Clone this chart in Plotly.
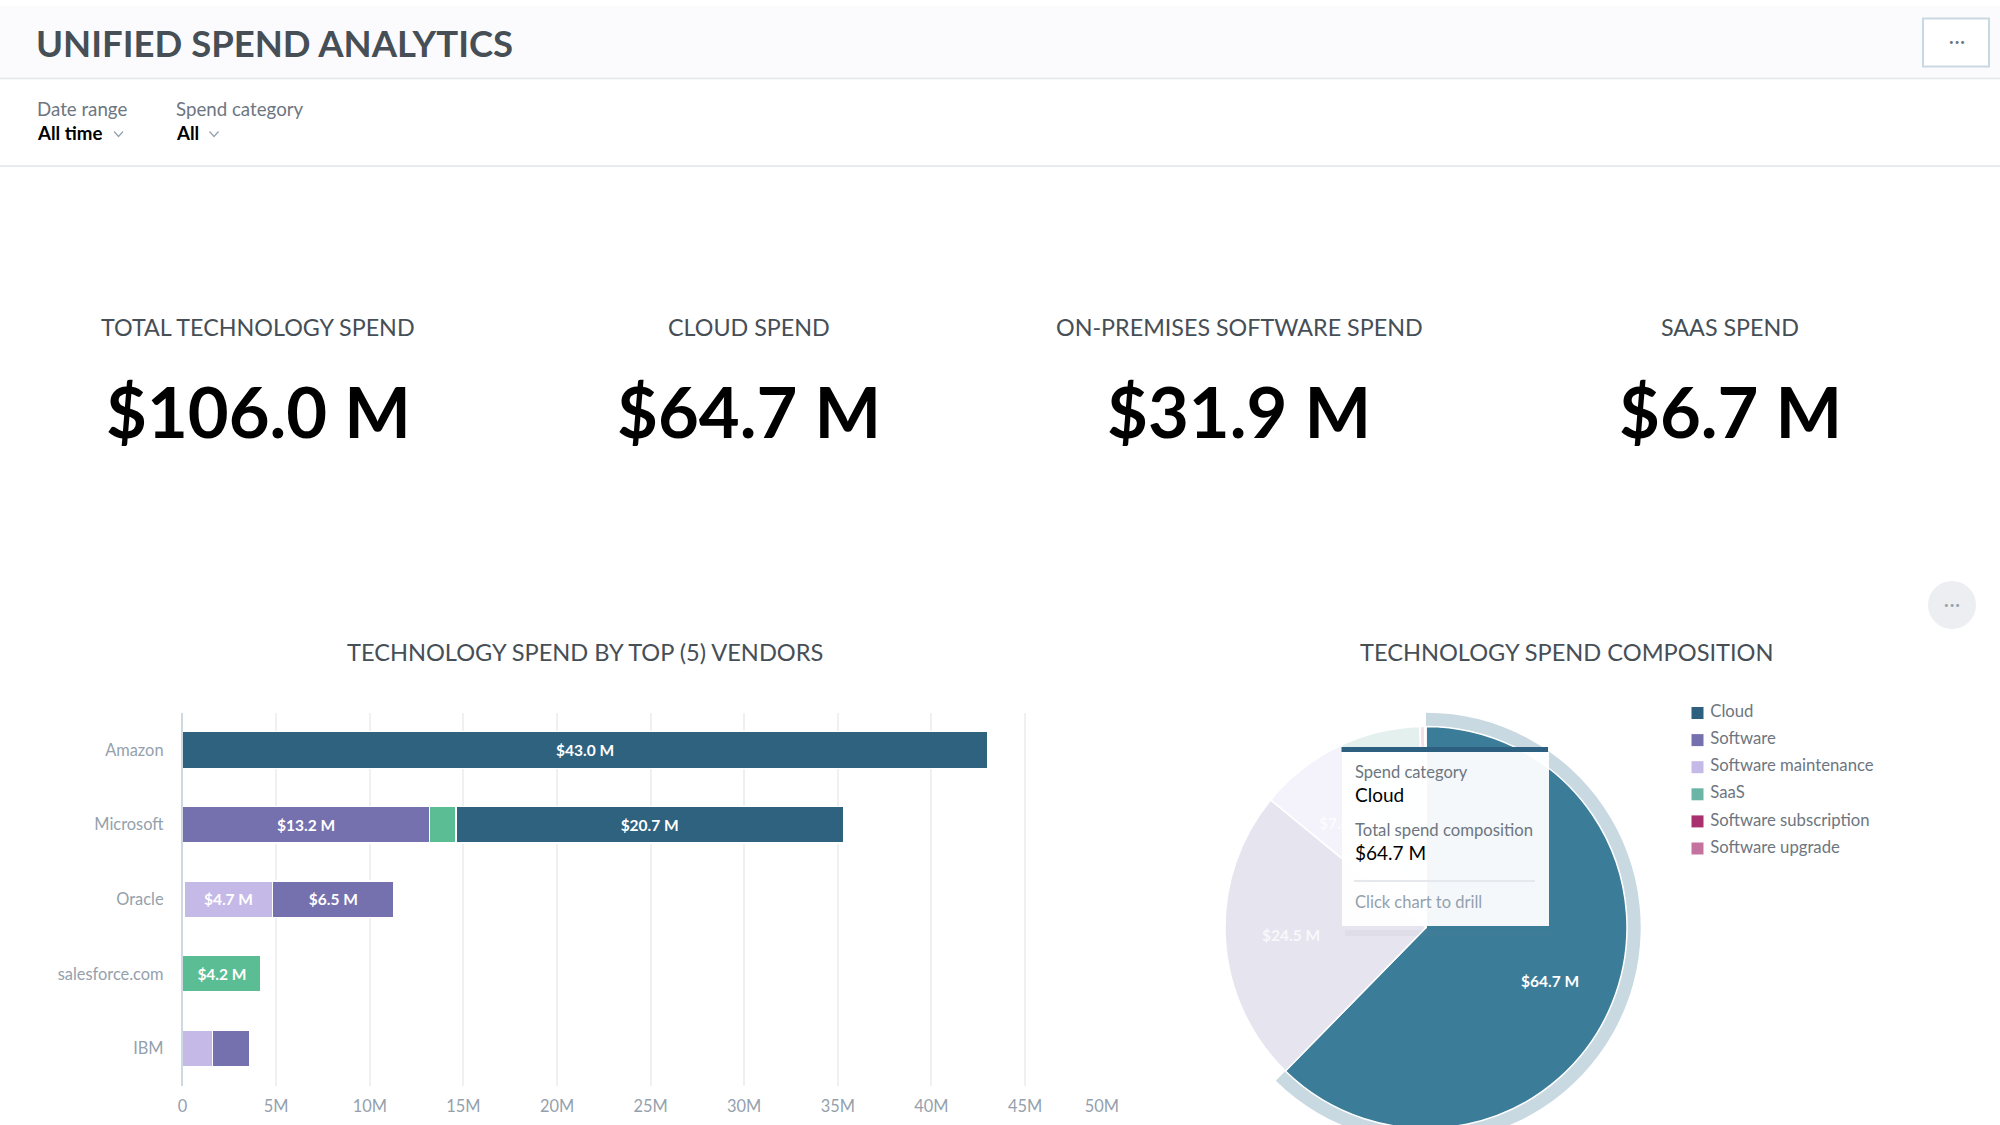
import plotly.graph_objects as go

W, H = 2000, 1160
FONT = "Lato"

vendors = ["Amazon", "Microsoft", "Oracle", "salesforce.com", "IBM"]
upgrade_spend = [None, None, 0.1, None, None]
maintenance_spend = [None, None, 4.7, None, 1.6]
software_spend = [None, 13.2, 6.5, None, 2.0]
saas_spend = [None, 1.4, None, 4.2, None]
cloud_spend = [43.0, 20.7, None, None, None]
x_tick_vals = [0, 5, 10, 15, 20, 25, 30, 35, 40, 45, 50]
x_tick_text = ["0", "5M", "10M", "15M", "20M", "25M", "30M", "35M", "40M", "45M", "50M" + "\u00a0" * 8]

pie_labels = ["Cloud", "Software", "Software maintenance", "SaaS", "Software subscription", "Software upgrade"]
pie_values = [64.7, 24.5, 7.4, 6.7, 0.4, 0.1]
pie_text = ["", "", "", "$6.7 M", "", ""]
legend_colors = ["#2d5f7f", "#7570ae", "#c5b9e8", "#6ab5a5", "#a9306f", "#c4739f"]
pie_colors = ["#3b7c98", "#e6e4ef", "#f4f2fb", "#e3f0ee", "#f3dfe9", "#f3e4ec"]

kpi_titles = ["TOTAL TECHNOLOGY SPEND", "CLOUD SPEND", "ON-PREMISES SOFTWARE SPEND", "SAAS SPEND"]
kpi_values = ["$106.0 M", "$64.7 M", "$31.9 M", "$6.7 M"]


def px(v):
    return v / W


def py(v):
    return 1 - v / H


fig = go.Figure()


def fmt(vals):
    return [f"${v:.1f} M" if v is not None and v >= 3 else "" for v in vals]


for name, vals, color in [
    ("Software upgrade", upgrade_spend, "#ffffff"),
    ("Software maintenance", maintenance_spend, "#c5b9e8"),
    ("Software", software_spend, "#7570ae"),
    ("SaaS", saas_spend, "#5bbd93"),
    ("Cloud", cloud_spend, "#2e627f"),
]:
    fig.add_trace(go.Bar(
        y=vendors, x=vals, name=name, orientation="h", width=0.49,
        marker=dict(color=color, line=dict(color="#ffffff", width=1.5)),
        text=fmt(vals), textposition="inside", insidetextanchor="middle", textangle=0,
        constraintext="none",
        textfont=dict(family=FONT, size=15.5, color="#ffffff", weight=700),
        showlegend=False, hoverinfo="skip",
    ))

# halo around the hovered slice
cx, cy, r_pie, r_halo = 1426, 927.4, 201, 214.7
fig.add_trace(go.Pie(
    values=pie_values, labels=pie_labels, sort=False, direction="clockwise", rotation=0,
    hole=r_pie / r_halo, textinfo="none", hoverinfo="skip", showlegend=False,
    marker=dict(colors=["#c9d9e2"] + ["rgba(0,0,0,0)"] * 5, line=dict(width=0)),
    domain=dict(x=[px(cx - r_halo), px(cx + r_halo)], y=[py(cy + r_halo), py(cy - r_halo)]),
))
fig.add_trace(go.Pie(
    values=pie_values, labels=pie_labels, sort=False, direction="clockwise", rotation=0,
    text=pie_text, textinfo="text", textposition="inside", insidetextorientation="horizontal",
    textfont=dict(family=FONT, size=15.5, color="rgba(255,255,255,0.75)", weight=700),
    hoverinfo="skip", showlegend=False,
    marker=dict(colors=pie_colors, line=dict(color="#ffffff", width=1.5)),
    domain=dict(x=[px(cx - r_pie), px(cx + r_pie)], y=[py(cy + r_pie), py(cy - r_pie)]),
))

# legend, on a hidden pixel-like axis
fig.add_trace(go.Scatter(
    x=[1697.5] * len(pie_labels), y=[713 + 27.1 * i for i in range(len(pie_labels))],
    xaxis="x2", yaxis="y2", mode="markers+text", text=["\u00a0" + s for s in pie_labels],
    textposition="middle right",
    marker=dict(symbol="square", size=12, color=legend_colors),
    textfont=dict(family=FONT, size=16.7, color="#6d7680"),
    showlegend=False, hoverinfo="skip", cliponaxis=False,
))

shapes = []


def rect(x0, y0, x1, y1, fill, line=None, lw=0, layer="above"):
    shapes.append(dict(type="rect", xref="paper", yref="paper", x0=px(x0), x1=px(x1), y0=py(y0), y1=py(y1),
                       fillcolor=fill, line=dict(color=line or fill, width=lw), layer=layer))


def hline(x0, x1, y, color, lw=1.5):
    shapes.append(dict(type="line", xref="paper", yref="paper", x0=px(x0), x1=px(x1), y0=py(y), y1=py(y),
                       line=dict(color=color, width=lw)))


def chevron(x, y):
    shapes.append(dict(type="path", xref="paper", yref="paper",
                       path=f"M {px(x-4.5)} {py(y-2.5)} L {px(x)} {py(y+2.5)} L {px(x+4.5)} {py(y-2.5)}",
                       line=dict(color="#94a1ad", width=1.2)))


rect(0, 6, W, 78, "#fbfbfd", layer="below")
hline(0, W, 78.5, "#e1e6ea", 1.5)
hline(0, W, 166, "#dfe6ea", 1.5)
rect(1923, 18.5, 1989, 66.5, "#ffffff", "#c9d9e2", 2)
shapes.append(dict(type="circle", xref="paper", yref="paper", x0=px(1928), x1=px(1976), y0=py(629), y1=py(581),
                   fillcolor="#eceef1", line=dict(width=0)))
chevron(118.5, 134)
chevron(214, 134)

# tooltip shadow and top strip
rect(1345, 930, 1552, 936, "rgba(120,130,140,0.06)")
rect(1341.5, 747, 1548, 752, "#2d6080")


def note(x, y, text, size, color, anchor="left", weight=400):
    return dict(x=px(x), y=py(y), xref="paper", yref="paper", text=text, showarrow=False, xanchor=anchor,
                yanchor="middle", font=dict(family=FONT, size=size, color=color, weight=weight))


def panel(x0, y0, x1, y1, fill):
    return dict(x=px(x0), y=py(y0), xref="paper", yref="paper", text=" ", showarrow=False, xanchor="left",
                yanchor="top", width=x1 - x0, height=y1 - y0, bgcolor=fill, borderpad=0, borderwidth=0,
                font=dict(size=1))


annotations = [
    note(34, 43, "UNIFIED SPEND ANALYTICS", 36.5, "#464e56", weight=700),
    note(35, 109, "Date range", 18.7, "#6d7680"),
    note(35, 133, "All time", 18.7, "#000000", weight=700),
    note(174, 109, "Spend category", 18.7, "#6d7680"),
    note(174, 133, "All", 18.7, "#000000", weight=700),
    note(1956.5, 42, "\u2022\u2009\u2022\u2009\u2022", 8, "#6d7680", "center"),
    note(1952, 605, "\u2022\u2009\u2022\u2009\u2022", 8, "#94a1ad", "center"),
    note(585, 652, "TECHNOLOGY SPEND BY TOP (5) VENDORS", 23.6, "#464e56", "center"),
    note(1566, 652, "TECHNOLOGY SPEND COMPOSITION", 23.6, "#464e56", "center"),
    note(1549.5, 981, f"${pie_values[0]} M", 15.5, "#ffffff", "center", 700),
    note(1291, 935, f"${pie_values[1]} M", 15.5, "rgba(255,255,255,0.75)", "center", 700),
    note(1343, 823, f"${pie_values[2]} M", 15.5, "rgba(255,255,255,0.75)", "center", 700),
    panel(1341.5, 752, 1548, 926, "rgba(255,255,255,0.95)"),
    panel(1354, 879.5, 1534.5, 881, "#e5e8ec"),
    note(1353, 772, "Spend category", 16.5, "#6d7680"),
    note(1353, 794, pie_labels[0], 19, "#000000"),
    note(1353, 830, "Total spend composition", 16.7, "#6d7680"),
    note(1353, 852, f"${pie_values[0]} M", 19, "#000000"),
    note(1353, 902, "Click chart to drill", 16.5, "#94a1ad"),
]
for cxk, t, v in zip([258, 749, 1239, 1730], kpi_titles, kpi_values):
    annotations.append(note(cxk, 327, t, 23.3, "#464e56", "center"))
    annotations.append(note(cxk, 411, v, 70.5, "#000000", "center", 700))

fig.update_layout(
    width=W, height=H, autosize=False, margin=dict(l=0, r=0, t=0, b=0),
    paper_bgcolor="#ffffff", plot_bgcolor="rgba(0,0,0,0)", barmode="stack",
    shapes=shapes, annotations=annotations, showlegend=False,
    xaxis=dict(domain=[px(182.6), px(1118.6)], range=[0, 50], tickvals=x_tick_vals, ticktext=x_tick_text,
               tickfont=dict(family=FONT, size=16.4, color="#94a1ad"), showgrid=True, gridcolor="#eef0f2",
               gridwidth=1.5, zeroline=False, ticks="outside", ticklen=6, tickcolor="rgba(0,0,0,0)",
               fixedrange=True, automargin=False),
    yaxis=dict(domain=[py(1085.7), py(712.7)], autorange="reversed",
               tickfont=dict(family=FONT, size=16.4, color="#94a1ad"), showgrid=False, zeroline=False,
               showline=True, linecolor="#ccd8e2", linewidth=1.5, ticks="outside", ticklen=14,
               tickcolor="rgba(0,0,0,0)", fixedrange=True, automargin=False),
    xaxis2=dict(domain=[0, 1], range=[0, W], visible=False, anchor="y2", fixedrange=True, automargin=False),
    yaxis2=dict(domain=[0, 1], range=[H, 0], visible=False, anchor="x2", fixedrange=True, automargin=False),
)

fig.write_html("out.html", config=dict(displayModeBar=False),
               post_script="document.body.style.margin='0';document.documentElement.style.overflow='hidden';")
